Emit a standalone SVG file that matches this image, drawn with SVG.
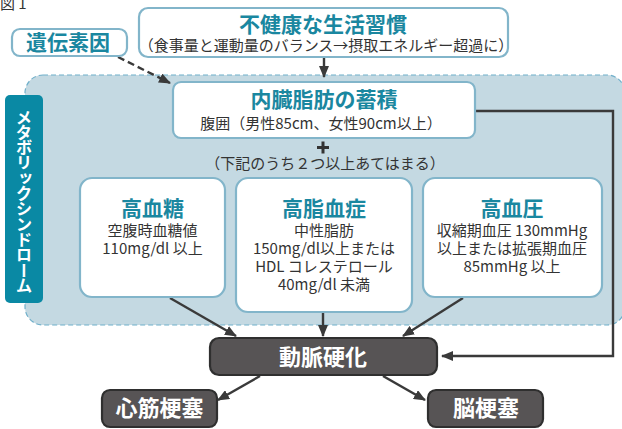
<svg xmlns="http://www.w3.org/2000/svg" width="622" height="429" viewBox="0 0 622 429">
<defs>
<style>
.jp{font-family:"Noto Sans CJK JP","Noto Sans",sans-serif;}
.ttl{font-family:"Noto Sans CJK JP",sans-serif;font-weight:700;fill:#1a87a0;text-anchor:middle;}
.body{font-family:"Noto Sans CJK JP",sans-serif;fill:#333;text-anchor:middle;font-size:15px;}
.wbox{fill:#fff;stroke:#82b5ca;stroke-width:2.2;}
.dbox{fill:#575455;stroke:#2f2f2f;stroke-width:2.2;}
.wt{font-family:"Noto Sans CJK JP",sans-serif;font-weight:700;fill:#fff;text-anchor:middle;font-size:22px;}
.conn{stroke:#3a3a3a;stroke-width:2.4;fill:none;}
</style>
<marker id="ah" markerUnits="userSpaceOnUse" markerWidth="12" markerHeight="10" refX="11" refY="5" orient="auto">
<path d="M0,0 L12,5 L0,10 z" fill="#3a3a3a"/>
</marker>
</defs>
<rect width="622" height="429" fill="#fff"/>
<text x="0" y="9" class="jp" font-size="15" fill="#333">図 1</text>

<g id="metabo-panel">
<rect x="25" y="75" width="600" height="250" rx="18" fill="#c4d9e2" stroke="#6fafca" stroke-width="1.2" stroke-dasharray="5 3"/>
<rect x="5" y="95" width="38" height="208" rx="5" fill="#0a89a4"/>
<text x="24" y="109" class="jp" font-size="16.5" font-weight="700" fill="#fff" writing-mode="vertical-rl" letter-spacing="-1.2" text-anchor="start">メタボリックシンドローム</text>
</g>

<g id="connectors">
<line class="conn" x1="118" y1="57" x2="170" y2="83" stroke-dasharray="7 4" marker-end="url(#ah)"/>
<line class="conn" x1="324" y1="57" x2="324" y2="77" marker-end="url(#ah)"/>
<polyline class="conn" points="475,111 613,111 613,356 442,356" marker-end="url(#ah)"/>
<line class="conn" x1="170" y1="298" x2="236" y2="336" marker-end="url(#ah)"/>
<line class="conn" x1="323" y1="312" x2="323" y2="336" marker-end="url(#ah)"/>
<line class="conn" x1="463" y1="298" x2="403" y2="336" marker-end="url(#ah)"/>
<line class="conn" x1="260" y1="376" x2="218" y2="400" marker-end="url(#ah)"/>
<line class="conn" x1="383" y1="376" x2="425" y2="400" marker-end="url(#ah)"/>
</g>

<g id="lifestyle">
<rect class="wbox" x="139" y="8" width="369" height="49" rx="9"/>
<text x="323" y="32" class="ttl" font-size="21">不健康な生活習慣</text>
<text x="326" y="51" class="body" font-size="14">（食事量と運動量のバランス→摂取エネルギー超過に）</text>
</g>

<g id="genetic">
<rect class="wbox" x="12" y="29" width="115" height="27" rx="8"/>
<text x="68" y="50" class="ttl" font-size="21">遺伝素因</text>
</g>

<g id="visceral">
<rect class="wbox" x="173" y="82" width="302" height="56" rx="8"/>
<text x="324" y="107" class="ttl" font-size="21">内臓脂肪の蓄積</text>
<text x="321" y="129" class="body" font-size="14.5">腹囲（男性85cm、女性90cm以上）</text>
</g>

<g id="plus">
<path d="M317,147.5 H329 M323,141.5 V153.5" stroke="#333" stroke-width="3"/>
<text x="325" y="169" class="body" font-size="14">（下記のうち２つ以上あてはまる）</text>
</g>

<g id="hyperglycemia">
<rect class="wbox" x="80" y="178" width="145" height="119" rx="12"/>
<text x="152.5" y="216" class="ttl" font-size="21">高血糖</text>
<text x="152.5" y="236" class="body">空腹時血糖値</text>
<text x="152.5" y="254" class="body">110mg/dl 以上</text>
</g>

<g id="hyperlipidemia">
<rect class="wbox" x="236" y="178" width="176" height="134" rx="12"/>
<text x="324" y="216" class="ttl" font-size="21">高脂血症</text>
<text x="324" y="236" class="body">中性脂肪</text>
<text x="324" y="254" class="body">150mg/dl以上または</text>
<text x="324" y="272" class="body">HDL コレステロール</text>
<text x="324" y="290" class="body">40mg/dl 未満</text>
</g>

<g id="hypertension">
<rect class="wbox" x="423" y="178" width="179" height="119" rx="12"/>
<text x="512" y="216" class="ttl" font-size="21">高血圧</text>
<text x="512" y="236" class="body">収縮期血圧 130mmHg</text>
<text x="512" y="254" class="body">以上または拡張期血圧</text>
<text x="512" y="272" class="body">85mmHg 以上</text>
</g>

<g id="arteriosclerosis">
<rect class="dbox" x="210" y="338" width="227" height="37" rx="9"/>
<text x="323" y="365" class="wt">動脈硬化</text>
</g>

<g id="mi">
<rect class="dbox" x="102" y="390" width="115" height="37" rx="8"/>
<text x="159.5" y="416" class="wt">心筋梗塞</text>
</g>

<g id="stroke">
<rect class="dbox" x="428" y="390" width="115" height="37" rx="8"/>
<text x="486" y="416" class="wt">脳梗塞</text>
</g>
</svg>
